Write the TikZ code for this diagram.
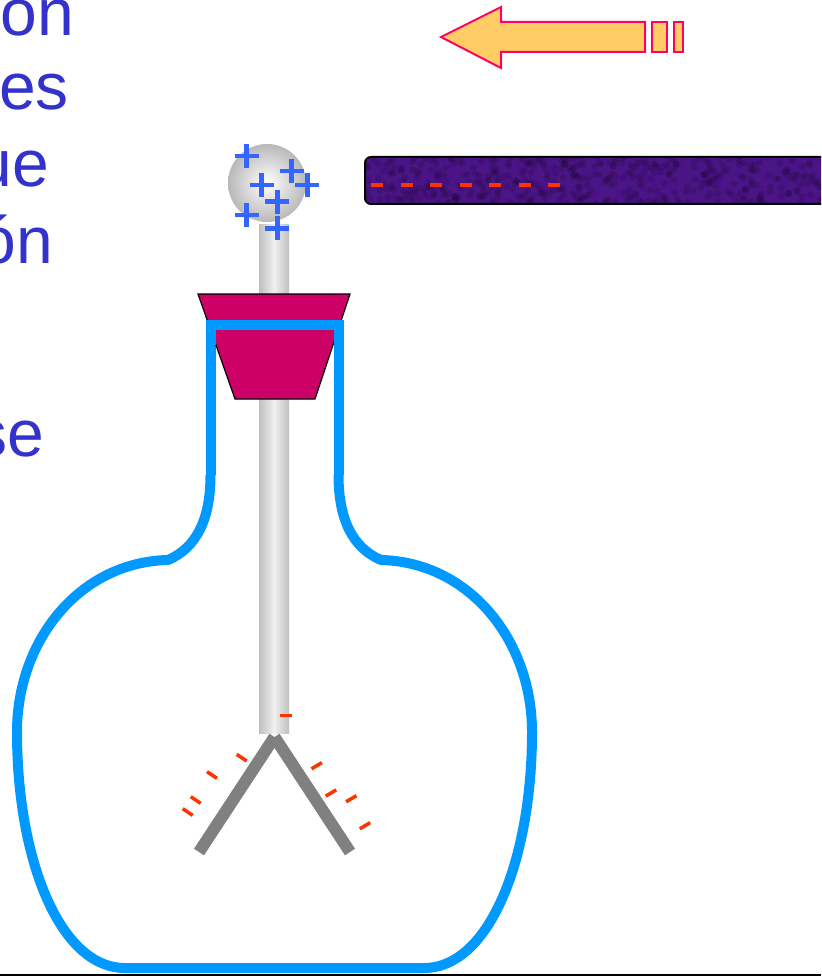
\documentclass[tikz,border=0pt]{standalone}
\usepackage{fontspec}
\setmainfont{Liberation Sans}
\begin{document}
\definecolor{textblue}{HTML}{3333CC}
\definecolor{glassblue}{HTML}{0099FF}
\definecolor{stopper}{HTML}{CC0066}
\definecolor{charge}{HTML}{FF3300}
\definecolor{plusblue}{HTML}{3366FF}
\definecolor{barpurple}{HTML}{4A1585}
\definecolor{arrowfill}{HTML}{FFCC66}
\definecolor{arrowline}{HTML}{FF0066}
\definecolor{leafgray}{HTML}{808080}
\begin{tikzpicture}[x=1pt,y=-1pt,
  label/.style={text=textblue,inner sep=0pt,anchor=base east,font=\fontsize{66}{79}\selectfont},
  glass/.style={draw=glassblue,line width=10pt,line join=round},
  leaf/.style={draw=leafgray,line width=12pt,line cap=butt},
  negdash/.style={draw=charge,line width=3.5pt},
  posmark/.style={draw=plusblue,line width=4.5pt},
  arrowpart/.style={fill=arrowfill,draw=arrowline,line width=2pt,line join=miter}]
\useasboundingbox (0,0) rectangle (821,976);
\clip (0,0) rectangle (821,976);

% text lines at the left edge
\node[label] (l1) at (74.5,36) {on};
\node[label] (l2) at (69,110) {es};
\node[label] (l3) at (49,187) {ue};
\node[label] (l4) at (53.5,263) {ón};
\node[label] (l5) at (44,456) {se};

% arrow pointing left
\draw[arrowpart] (441,37) -- (501,7) -- (501,22) -- (645,22) -- (645,52) -- (501,52) -- (501,68) -- cycle;
\draw[arrowpart] (652,22) rectangle (667,52);
\draw[arrowpart] (674,22) rectangle (683,52);

% charged rod
\begin{scope}
  \clip[rounded corners=6pt] (365,157) rectangle (840,204);
  \fill[barpurple] (365,157) rectangle (840,204);
  \pgfmathsetseed{7}
  \foreach \i in {1,...,450}{
    \pgfmathsetmacro\px{365+475*rnd}
    \pgfmathsetmacro\py{157+47*rnd}
    \fill[black,opacity=0.12] (\px,\py) circle (3.5);
  }
  \foreach \i in {1,...,250}{
    \pgfmathsetmacro\px{365+475*rnd}
    \pgfmathsetmacro\py{157+47*rnd}
    \fill[violet!70!blue,opacity=0.12] (\px,\py) circle (3);
  }
\end{scope}
\draw[black,line width=2pt,rounded corners=6pt] (365,157) rectangle (840,204);
\foreach \dx in {0,...,6}{
  \draw[negdash] (371+29.5*\dx,185) -- (383+29.5*\dx,185);
}

% flask
\draw[glass] (210.5,475) -- (210.5,325) -- (338.5,325) -- (338.5,475);
\draw[glass] (210.5,475) .. controls (210.5,520) and (196,548) .. (168,560)
  .. controls (80,562) and (17,640) .. (17,732)
  .. controls (17,860) and (60,968) .. (125,968)
  -- (424,968)
  .. controls (489,968) and (532,860) .. (532,732)
  .. controls (532,640) and (469,562) .. (381,560)
  .. controls (353,548) and (338.5,520) .. (338.5,475);

% metal stem
\shade[left color=gray!50,right color=gray!50,middle color=gray!12] (259,225) rectangle (289,733);

% stopper
\draw[fill=stopper,draw=black,line width=1.2pt] (198,294) -- (350,294) -- (315,399) -- (235,399) -- cycle;
\draw[glass,line join=miter] (210.5,345) -- (210.5,325) -- (338.5,325) -- (338.5,345);

% knob with positive charges
\shade[inner color=white,outer color=gray!55] (267,183) circle (39);
\foreach \cx/\cy in {246.7/156,291.7/171,307.3/185,261.7/185,277.3/201.7,246.7/215,277.3/228.3}{
  \draw[posmark] (\cx-12,\cy) -- (\cx+12,\cy);
  \draw[posmark] (\cx,\cy-12) -- (\cx,\cy+12);
}

% leaves
\coordinate (apex) at (274.5,737);
\coordinate (leftend) at (199,852);
\coordinate (rightend) at (350,852);
\draw[leaf] (apex) -- (leftend);
\draw[leaf] (apex) -- (rightend);

% negative charges near the leaves
\draw[negdash] (280,715.3) -- (292,715.3);
\foreach \cx/\cy in {241.7/757.7,212/775,195.7/800,187.7/812}{
  \draw[negdash] (\cx-5,\cy-3.3) -- (\cx+5,\cy+3.3);
}
\foreach \cx/\cy in {316.7/765.7,331/793,351.3/798.7,365/825.7}{
  \draw[negdash] (\cx-5.2,\cy+3.1) -- (\cx+5.2,\cy-3.1);
}

% bottom rule
\draw[black,line width=3pt] (0,975) -- (821,975);
\end{tikzpicture}
\end{document}
